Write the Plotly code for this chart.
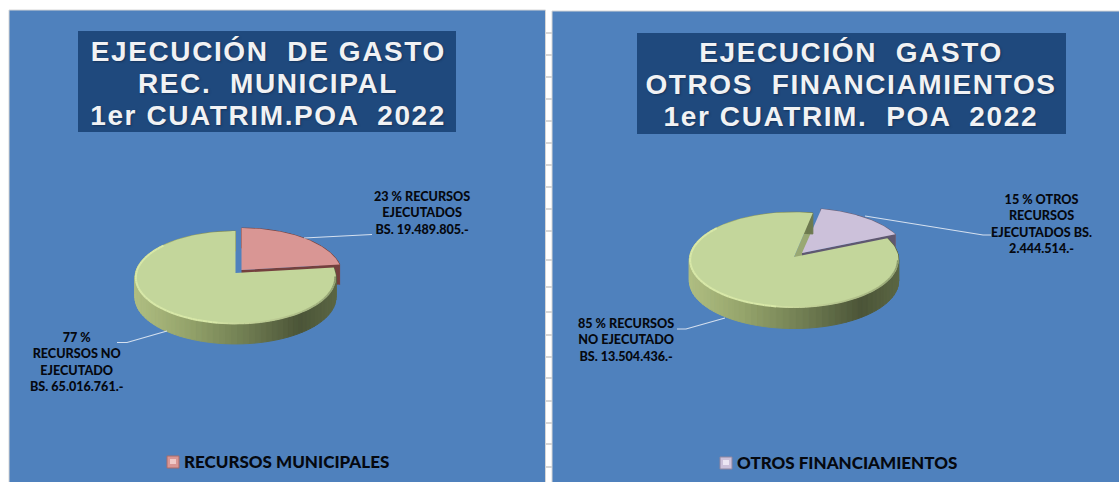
import numpy as np
import plotly.graph_objects as go

# ---------- data ----------
categories_left = ["RECURSOS EJECUTADOS", "RECURSOS NO EJECUTADO"]
values_left = [19489805, 65016761]
categories_right = ["OTROS RECURSOS EJECUTADOS", "RECURSOS NO EJECUTADO"]
values_right = [2444514, 13504436]
title_left = ["EJECUCIÓN  DE GASTO", "REC.  MUNICIPAL", "1er CUATRIM.POA  2022"]
title_right = ["EJECUCIÓN  GASTO", "OTROS  FINANCIAMIENTOS", "1er CUATRIM.  POA  2022"]
legend_left = "RECURSOS MUNICIPALES"
legend_right = "OTROS FINANCIAMIENTOS"
labels_left = ["23 % RECURSOS<br>EJECUTADOS<br>BS. 19.489.805.-",
               "77 %<br>RECURSOS NO<br>EJECUTADO<br>BS. 65.016.761.-"]
labels_right = ["15 % OTROS<br>RECURSOS<br>EJECUTADOS BS.<br>2.444.514.-",
                "85 % RECURSOS<br>NO EJECUTADO<br>BS. 13.504.436.-"]

# ---------- style ----------
W, H = 1119, 482
BLUE = "#4f81bd"
NAVY = "#1f497d"
GREEN = "#c3d69b"
BORDER = "#d6d6d6"
INK = "#05080f"
TITLE_FONT = "Liberation Sans"
LABEL_FONT = "Lato"
GRID_Y = [33, 55, 77, 99, 121, 143, 165, 187, 209, 231, 260, 287, 312, 335, 357, 378, 401, 423, 444, 467]
WALL_STOPS = [(0.0, (176, 190, 130)), (0.25, (150, 165, 108)), (0.55, (112, 125, 82)),
              (0.82, (76, 85, 56)), (1.0, (92, 103, 68))]

fig = go.Figure()
shapes, notes = [], []


def rect(x0, y0, x1, y1, fill, line=None):
    shapes.append(dict(type="rect", x0=x0, y0=y0, x1=x1, y1=y1, fillcolor=fill, layer="below",
                       line=dict(width=1 if line else 0, color=line or fill)))


def project(geo, t, r=1.0, dx=0.0, dy=0.0, drop=0.0):
    """t: clockwise angle from 12 o'clock, radians. Simple perspective of a disc."""
    t = np.asarray(t, dtype=float)
    u, v = r * np.sin(t), -r * np.cos(t)
    s = 1 / (1 - geo["k"] * v)
    return geo["cx"] + dx + geo["rx"] * u * s, geo["cy"] + dy + geo["ry"] * v * s + drop


def poly(xs, ys, color, line=1):
    fig.add_trace(go.Scatter(x=list(xs), y=list(ys), mode="lines", fill="toself", fillcolor=color,
                             line=dict(color=color, width=line), hoverinfo="skip", showlegend=False))


def wall_color(f):
    f = min(max(f, 0), 1)
    for (a, ca), (b, cb) in zip(WALL_STOPS, WALL_STOPS[1:]):
        if f <= b:
            m = (f - a) / (b - a)
            return "rgb(%d,%d,%d)" % tuple(ca[i] + (cb[i] - ca[i]) * m for i in range(3))
    return "rgb(%d,%d,%d)" % WALL_STOPS[-1][1]


def top(geo, a0, a1, color, dx=0, dy=0):
    t = np.linspace(a0, a1, 160)
    x, y = project(geo, t, dx=dx, dy=dy)
    poly(np.r_[geo["cx"] + dx, x, geo["cx"] + dx], np.r_[geo["cy"] + dy, y, geo["cy"] + dy], color, 0)


def side(geo, a0, a1, dx=0, dy=0, tint=None):
    edges = np.linspace(a0, a1, 90)
    for e0, e1 in zip(edges, edges[1:]):
        x0, y0 = project(geo, e0, dx=dx, dy=dy)
        x1, y1 = project(geo, e1, dx=dx, dy=dy)
        c = tint or wall_color((0.5 * (x0 + x1) - geo["cx"] - dx + geo["rx"]) / (2 * geo["rx"]))
        poly([x0, x1, x1, x0, x0], [y0, y1, y1 + geo["d"], y0 + geo["d"], y0], c)


def cut(geo, a, color, dx=0, dy=0):
    x, y = project(geo, a, dx=dx, dy=dy)
    ax, ay = geo["cx"] + dx, geo["cy"] + dy
    d = geo["d"]
    poly([ax, x, x, ax, ax], [ay, y, y + d, ay + d, ay], color, 0)


def rim(geo, a0, a1):
    edges = np.linspace(a0, a1, 100)
    for e0, e1 in zip(edges, edges[1:]):
        deg = np.degrees(0.5 * (e0 + e1)) % 360
        if 190 <= deg <= 310:
            col, wd = "#d8e8a8", 2.0
        elif 95 <= deg < 190:
            m = (deg - 95) / 95
            col, wd = "rgb(%d,%d,%d)" % (135 + 75 * m, 150 + 75 * m, 105 + 60 * m), 1.8
        else:
            continue
        x, y = project(geo, np.array([e0, e1]), r=0.992)
        fig.add_trace(go.Scatter(x=x, y=y, mode="lines", line=dict(color=col, width=wd),
                                 hoverinfo="skip", showlegend=False))


def draw_pie(values, geo, slice_color, wall_tint, cut_tint):
    a0 = geo["start"]
    a1 = a0 + 2 * np.pi * values[0] / sum(values)
    dx, dy = geo["explode"]
    # face of the green slice exposed by the exploded wedge
    cut(geo, a0, "#99a873")
    # exploded slice
    side(geo, a0, a1, dx, dy, tint=wall_tint)
    cut(geo, a1, cut_tint, dx, dy)
    top(geo, a0, a1, slice_color, dx, dy)
    # main slice
    side(geo, a1, a0 + 2 * np.pi)
    top(geo, a1, a0 + 2 * np.pi, GREEN)
    rim(geo, a1, a0 + 2 * np.pi)


def leader(xs, ys):
    fig.add_trace(go.Scatter(x=xs, y=ys, mode="lines", line=dict(color="#d5e0ef", width=1.2),
                             hoverinfo="skip", showlegend=False))


def text(x, y, s, size, font=LABEL_FONT, color=INK, weight=900, **kw):
    notes.append(dict(x=x, y=y, text=s, showarrow=False, xref="x", yref="y", align="center",
                      xanchor="center", yanchor="middle",
                      font=dict(family=font, size=size, color=color, weight=weight, **kw)))


# ---------- panels ----------
rect(0, 0, W, H, "white")
for gy in GRID_Y:
    rect(545, gy - 1, 552, gy + 1, BORDER)
rect(9, 10, 545.5, H + 2, BLUE, BORDER)
rect(552, 11, W + 2, H + 2, BLUE, BORDER)
rect(78, 31, 456, 132, NAVY)
rect(637, 33, 1066, 134, NAVY)

# ---------- titles ----------
SHADOW = "1px 1px 2px rgba(15,35,65,0.55)"
for line, y in zip(title_left, [51, 83.5, 115.5]):
    text(268, y, line, 28, TITLE_FONT, "#f1f2f4", 700, shadow=SHADOW)
for line, y in zip(title_right, [52, 84.5, 116.5]):
    text(851, y, line, 28, TITLE_FONT, "#f1f2f4", 700, shadow=SHADOW)

# ---------- pies ----------
draw_pie(values_left,
         dict(cx=235.5, cy=273, rx=100, ry=46, k=0.097, d=20, start=0.0, explode=(6, -3)),
         "#d99694", "#7d4a48", "#74403e")
draw_pie(values_right,
         dict(cx=794, cy=257, rx=104.5, ry=47.5, k=0.06, d=21, start=np.radians(11), explode=(8, -4)),
         "#ccc1da", "#6f6880", "#5f5870")

# ---------- leaders and labels ----------
leader([304, 372], [238, 234.5])
leader([167, 127, 117], [331, 342.5, 342.5])
leader([865, 983, 991], [216, 235, 235])
leader([725, 686, 677], [318, 329, 329])
text(422, 212.5, labels_left[0], 12.6)
text(77, 362, labels_left[1], 12.6)
text(1041.5, 223.5, labels_right[0], 12.6)
text(626, 340, labels_right[1], 12.6)

# ---------- legend entries ----------
rect(167, 456, 179, 468, "#d99694", "#a86a68")
rect(170, 459, 176, 464, "#f0c9c7")
text(286, 461, legend_left, 17)
rect(720, 457, 732, 469, "#ccc1da", "#8f86a0")
rect(723, 460, 729, 465, "#ece6f3")
text(846.5, 462, legend_right, 17)

fig.update_layout(width=W, height=H, margin=dict(l=0, r=0, t=0, b=0), autosize=False,
                  paper_bgcolor="white", plot_bgcolor="white", showlegend=False,
                  shapes=shapes, annotations=notes, hovermode=False,
                  xaxis=dict(range=[0, W], visible=False, fixedrange=True),
                  yaxis=dict(range=[H, 0], visible=False, fixedrange=True))

POST = """
document.body.style.margin='0';
document.querySelectorAll('.annotation-text').forEach(function(t){
  var s=parseFloat(t.style.fontSize);
  if(s>=25){t.style.letterSpacing='1.6px';}
});
"""
fig.write_html("out.html", config={"displayModeBar": False}, post_script=POST)
